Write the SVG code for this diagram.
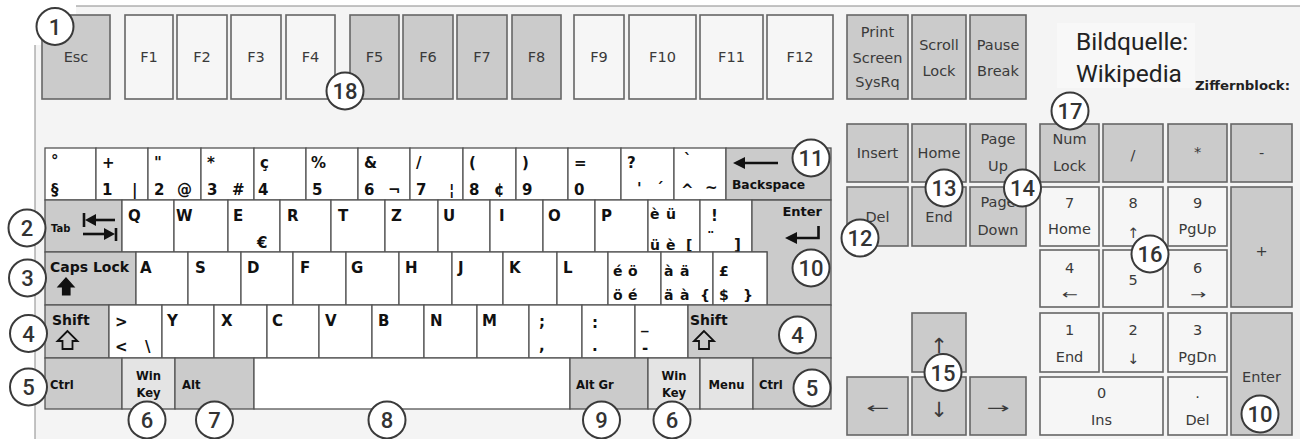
<svg xmlns="http://www.w3.org/2000/svg" width="1300" height="439" viewBox="0 0 1300 439">
<style>
.bg{fill:#f4f4f4;stroke:#8a8a8a;stroke-width:1}
.g{fill:#cbcbcb;stroke:#555;stroke-width:1.3}
.w{fill:#fff;stroke:#555;stroke-width:1.3}
.lg{fill:#e4e4e4;stroke:#555;stroke-width:1.3}
.fg{fill:#cbcbcb;stroke:#666;stroke-width:1.6}
.fl{fill:#f6f6f6;stroke:#666;stroke-width:1.6}
.t{font-family:"DejaVu Sans","Liberation Sans",sans-serif;font-weight:bold;font-size:15px;fill:#111}
.sm{font-family:"DejaVu Sans","Liberation Sans",sans-serif;font-weight:bold;font-size:11.6px;fill:#111}
.smc{font-family:"DejaVu Sans","Liberation Sans",sans-serif;font-weight:bold;font-size:11.6px;fill:#111;text-anchor:middle}
.r{font-family:"DejaVu Sans","Liberation Sans",sans-serif;font-size:14.5px;fill:#3a3a3a;text-anchor:middle}
.ah{font-family:"DejaVu Sans",sans-serif;font-size:15px;fill:#3a3a3a;text-anchor:middle}
.av{font-family:"DejaVu Sans",sans-serif;font-size:21px;fill:#3a3a3a;text-anchor:middle}
.cc{fill:#fff;stroke:#3a3a3a;stroke-width:2}
.cn{font-family:Roboto,"Liberation Sans",sans-serif;font-weight:500;font-size:22px;fill:#333;text-anchor:middle}
.ic{fill:#111}
.ln{stroke:#111;stroke-width:2.6;fill:none}
</style>
<rect x="0" y="0" width="1300" height="439" fill="#fff"/>
<rect class="bg" x="35" y="6" width="1280" height="450"/>
<rect x="34" y="0" width="42" height="45" fill="#fff"/>
<rect x="1057" y="23" width="138" height="65" fill="#f8f8f8"/>
<g id="source">
<text x="1076" y="50" style="font-family:Roboto,'Liberation Sans',sans-serif;font-size:24.5px;fill:#222">Bildquelle:</text>
<text x="1076" y="82" style="font-family:Roboto,'Liberation Sans',sans-serif;font-size:24.5px;fill:#222">Wikipedia</text>
<text x="1195" y="90" textLength="95" lengthAdjust="spacingAndGlyphs" style="font-family:'DejaVu Sans','Liberation Sans',sans-serif;font-weight:bold;font-size:11.5px;fill:#222">Ziffernblock:</text>
</g>

<!-- Function row -->
<g id="k-esc"><rect class="fg" x="42" y="15" width="68" height="84"/><text class="r" x="76" y="62">Esc</text></g>
<g id="k-f1"><rect class="fl" x="125" y="15" width="48" height="84"/><text class="r" x="149" y="62">F1</text></g>
<g id="k-f2"><rect class="fl" x="177" y="15" width="50" height="84"/><text class="r" x="202" y="62">F2</text></g>
<g id="k-f3"><rect class="fl" x="231" y="15" width="50" height="84"/><text class="r" x="256" y="62">F3</text></g>
<g id="k-f4"><rect class="fl" x="286" y="15" width="49" height="84"/><text class="r" x="310.5" y="62">F4</text></g>
<g id="k-f5"><rect class="fg" x="350" y="15" width="49" height="84"/><text class="r" x="374.5" y="62">F5</text></g>
<g id="k-f6"><rect class="fg" x="403" y="15" width="50" height="84"/><text class="r" x="428" y="62">F6</text></g>
<g id="k-f7"><rect class="fg" x="457" y="15" width="50" height="84"/><text class="r" x="482" y="62">F7</text></g>
<g id="k-f8"><rect class="fg" x="512" y="15" width="49" height="84"/><text class="r" x="536.5" y="62">F8</text></g>
<g id="k-f9"><rect class="fl" x="574" y="15" width="50" height="84"/><text class="r" x="599" y="62">F9</text></g>
<g id="k-f10"><rect class="fl" x="629" y="15" width="67" height="84"/><text class="r" x="662.5" y="62">F10</text></g>
<g id="k-f11"><rect class="fl" x="700" y="15" width="63" height="84"/><text class="r" x="731.5" y="62">F11</text></g>
<g id="k-f12"><rect class="fl" x="767" y="15" width="66" height="84"/><text class="r" x="800" y="62">F12</text></g>
<g id="k-prt"><rect class="fg" x="847" y="15" width="61" height="84"/><text class="r" x="877.5" y="37">Print</text><text class="r" x="877.5" y="63">Screen</text><text class="r" x="877.5" y="87">SysRq</text></g>
<g id="k-scroll"><rect class="fg" x="912" y="15" width="54" height="84"/><text class="r" x="939" y="50">Scroll</text><text class="r" x="939" y="76">Lock</text></g>
<g id="k-pause"><rect class="fg" x="970" y="15" width="56" height="84"/><text class="r" x="998" y="50">Pause</text><text class="r" x="998" y="76">Break</text></g>

<!-- Navigation block -->
<g id="k-ins"><rect class="fg" x="847" y="124" width="61" height="58"/><text class="r" x="877.5" y="158">Insert</text></g>
<g id="k-home"><rect class="fg" x="912" y="124" width="54" height="58"/><text class="r" x="939" y="158">Home</text></g>
<g id="k-pgup"><rect class="fg" x="970" y="124" width="56" height="58"/><text class="r" x="998" y="144">Page</text><text class="r" x="998" y="171">Up</text></g>
<g id="k-del"><rect class="fg" x="847" y="187" width="61" height="59"/><text class="r" x="877.5" y="222">Del</text></g>
<g id="k-end"><rect class="fg" x="912" y="187" width="54" height="59"/><text class="r" x="939" y="222">End</text></g>
<g id="k-pgdn"><rect class="fg" x="970" y="187" width="56" height="59"/><text class="r" x="998" y="207">Page</text><text class="r" x="998" y="235">Down</text></g>
<g id="k-up"><rect class="fg" x="912" y="313" width="54" height="59"/><text class="av" x="939" y="353">↑</text></g>
<g id="k-left"><rect class="fg" x="847" y="377" width="61" height="58"/><text class="ah" x="866" y="413" textLength="23" lengthAdjust="spacingAndGlyphs" style="text-anchor:start">←</text></g>
<g id="k-down"><rect class="fg" x="912" y="377" width="54" height="58"/><text class="av" x="939" y="417">↓</text></g>
<g id="k-right"><rect class="fg" x="970" y="377" width="56" height="58"/><text class="ah" x="986.5" y="413" textLength="23" lengthAdjust="spacingAndGlyphs" style="text-anchor:start">→</text></g>

<!-- Numeric keypad -->
<g id="n-numlock"><rect class="fg" x="1040" y="124" width="59" height="58"/><text class="r" x="1069.5" y="144">Num</text><text class="r" x="1069.5" y="171">Lock</text></g>
<g id="n-div"><rect class="fg" x="1103" y="124" width="60" height="58"/><text class="r" x="1133" y="160">/</text></g>
<g id="n-mul"><rect class="fg" x="1168" y="124" width="59" height="58"/><text class="r" x="1197.5" y="157">*</text></g>
<g id="n-sub"><rect class="fg" x="1231" y="124" width="61" height="58"/><text class="r" x="1261.5" y="158">-</text></g>
<g id="n-7"><rect class="fl" x="1040" y="187" width="59" height="59"/><text class="r" x="1069.5" y="208">7</text><text class="r" x="1069.5" y="234">Home</text></g>
<g id="n-8"><rect class="fl" x="1103" y="187" width="60" height="59"/><text class="r" x="1133" y="208">8</text><text class="r" x="1133" y="238">↑</text></g>
<g id="n-9"><rect class="fl" x="1168" y="187" width="59" height="59"/><text class="r" x="1197.5" y="208">9</text><text class="r" x="1197.5" y="234">PgUp</text></g>
<g id="n-add"><rect class="fg" x="1231" y="187" width="61" height="120"/><text class="r" x="1261.5" y="256">+</text></g>
<g id="n-4"><rect class="fl" x="1040" y="250" width="59" height="57"/><text class="r" x="1069.5" y="273">4</text><text class="ah" x="1062" y="299" textLength="16" lengthAdjust="spacingAndGlyphs" style="text-anchor:start;font-size:13px">←</text></g>
<g id="n-5"><rect class="fl" x="1103" y="250" width="60" height="57"/><text class="r" x="1133" y="285">5</text></g>
<g id="n-6"><rect class="fl" x="1168" y="250" width="59" height="57"/><text class="r" x="1197.5" y="273">6</text><text class="ah" x="1190" y="299" textLength="16" lengthAdjust="spacingAndGlyphs" style="text-anchor:start;font-size:13px">→</text></g>
<g id="n-1"><rect class="fl" x="1040" y="313" width="59" height="59"/><text class="r" x="1069.5" y="335">1</text><text class="r" x="1069.5" y="362">End</text></g>
<g id="n-2"><rect class="fl" x="1103" y="313" width="60" height="59"/><text class="r" x="1133" y="335">2</text><text class="r" x="1133" y="364">↓</text></g>
<g id="n-3"><rect class="fl" x="1168" y="313" width="59" height="59"/><text class="r" x="1197.5" y="335">3</text><text class="r" x="1197.5" y="362">PgDn</text></g>
<g id="n-enter"><rect class="fg" x="1231" y="313" width="61" height="122"/><text class="r" x="1261.5" y="382">Enter</text></g>
<g id="n-0"><rect class="fl" x="1040" y="377" width="123" height="58"/><text class="r" x="1101.5" y="398">0</text><text class="r" x="1101.5" y="425">Ins</text></g>
<g id="n-dot"><rect class="fl" x="1168" y="377" width="59" height="58"/><text class="r" x="1197.5" y="398">.</text><text class="r" x="1197.5" y="425">Del</text></g>

<!-- Main block: row 1 -->
<g id="m-sect"><rect class="w" x="45" y="148" width="51" height="52"/><text class="t" x="51" y="166">°</text><text class="t" x="51" y="195">§</text></g>
<g id="m-1"><rect class="w" x="96" y="148" width="52" height="52"/><text class="t" x="102" y="168">+</text><text class="t" x="102" y="195">1</text><text class="t" x="132" y="195">|</text></g>
<g id="m-2"><rect class="w" x="148" y="148" width="53" height="52"/><text class="t" x="154" y="168">"</text><text class="t" x="154" y="195">2</text><text class="t" x="177" y="195">@</text></g>
<g id="m-3"><rect class="w" x="201" y="148" width="53" height="52"/><text class="t" x="207" y="168">*</text><text class="t" x="207" y="195">3</text><text class="t" x="232" y="195">#</text></g>
<g id="m-4"><rect class="w" x="254" y="148" width="52" height="52"/><text class="t" x="260" y="168">ç</text><text class="t" x="258" y="195">4</text></g>
<g id="m-5"><rect class="w" x="306" y="148" width="52" height="52"/><text class="t" x="311" y="168">%</text><text class="t" x="312" y="195">5</text></g>
<g id="m-6"><rect class="w" x="358" y="148" width="52" height="52"/><text class="t" x="364" y="168">&amp;</text><text class="t" x="364" y="195">6</text><text class="t" x="388" y="195">¬</text></g>
<g id="m-7"><rect class="w" x="410" y="148" width="53" height="52"/><text class="t" x="416" y="168">/</text><text class="t" x="416" y="195">7</text><text class="t" x="449" y="195">¦</text></g>
<g id="m-8"><rect class="w" x="463" y="148" width="53" height="52"/><text class="t" x="469" y="168">(</text><text class="t" x="469" y="195">8</text><text class="t" x="494" y="195">¢</text></g>
<g id="m-9"><rect class="w" x="516" y="148" width="52" height="52"/><text class="t" x="522" y="168">)</text><text class="t" x="522" y="195">9</text></g>
<g id="m-0"><rect class="w" x="568" y="148" width="53" height="52"/><text class="t" x="574" y="168">=</text><text class="t" x="574" y="195">0</text></g>
<g id="m-q"><rect class="w" x="621" y="148" width="53" height="52"/><text class="t" x="627" y="168">?</text><text class="t" x="637" y="194">'</text><text class="t" x="656" y="194">´</text></g>
<g id="m-grave"><rect class="w" x="674" y="148" width="52" height="52"/><text class="t" x="684" y="165">`</text><text class="t" x="681" y="195">^</text><text class="t" x="705" y="193">~</text></g>
<g id="m-bksp"><rect class="g" x="726" y="148" width="105" height="52"/><path class="ic" d="M733,163 L745,157 L745,169 Z"/><line class="ln" x1="744" y1="163" x2="778" y2="163" stroke-width="3"/><text class="sm" x="732" y="189" style="font-size:12.3px">Backspace</text></g>

<!-- Row 2 -->
<g id="m-tab"><rect class="g" x="45" y="200" width="77" height="52"/><text class="sm" x="51" y="232" style="font-size:10px">Tab</text>
<line class="ln" x1="84" y1="213" x2="84" y2="227"/><path class="ic" d="M85,220 L96,214 L96,226 Z"/><line class="ln" x1="95" y1="220" x2="115" y2="220"/>
<line class="ln" x1="83" y1="234" x2="106" y2="234"/><path class="ic" d="M115,234 L104,228 L104,240 Z"/><line class="ln" x1="116" y1="228" x2="116" y2="241"/></g>
<g id="m-Q"><rect class="w" x="122" y="200" width="52" height="52"/><text class="t" x="128" y="221">Q</text></g>
<g id="m-W"><rect class="w" x="174" y="200" width="54" height="52"/><text class="t" x="176" y="221">W</text></g>
<g id="m-E"><rect class="w" x="228" y="200" width="52" height="52"/><text class="t" x="233" y="221">E</text><text class="t" x="257" y="248">€</text></g>
<g id="m-R"><rect class="w" x="280" y="200" width="51" height="52"/><text class="t" x="287" y="221">R</text></g>
<g id="m-T"><rect class="w" x="331" y="200" width="54" height="52"/><text class="t" x="338" y="221">T</text></g>
<g id="m-Z"><rect class="w" x="385" y="200" width="53" height="52"/><text class="t" x="391" y="221">Z</text></g>
<g id="m-U"><rect class="w" x="438" y="200" width="52" height="52"/><text class="t" x="443" y="221">U</text></g>
<g id="m-I"><rect class="w" x="490" y="200" width="53" height="52"/><text class="t" x="499" y="221">I</text></g>
<g id="m-O"><rect class="w" x="543" y="200" width="52" height="52"/><text class="t" x="548" y="221">O</text></g>
<g id="m-P"><rect class="w" x="595" y="200" width="53" height="52"/><text class="t" x="601" y="221">P</text></g>
<g id="m-ue"><rect class="w" x="648" y="200" width="52" height="52"/><text class="t" x="650" y="219" style="font-size:14px">è</text><text class="t" x="666" y="219" style="font-size:14px">ü</text><text class="t" x="650" y="250" style="font-size:14px">ü</text><text class="t" x="666" y="250" style="font-size:14px">è</text><text class="t" x="686" y="250" style="font-size:14px">[</text></g>
<g id="m-excl"><rect class="w" x="700" y="200" width="52" height="52"/><text class="t" x="711" y="221">!</text><text class="t" x="707" y="244">¨</text><text class="t" x="734" y="250">]</text></g>
<g id="m-enter"><path class="g" d="M752,200 H831 V305 H767 V252 H752 Z"/><text class="sm" x="822" y="216" style="font-size:13px;text-anchor:end">Enter</text><path class="ln" d="M818.5,226 V238 H796" stroke-width="3"/><path class="ic" d="M785,238 L797,232 L797,244 Z"/></g>

<!-- Row 3 -->
<g id="m-caps"><rect class="g" x="45" y="252" width="91" height="53"/><text class="sm" x="50" y="272" style="font-size:14px">Caps Lock</text><path class="ic" d="M66,278 L58,287 L62.5,287 L62.5,295 L70,295 L70,287 L74,287 Z" stroke="#111" stroke-width="1.2"/></g>
<g id="m-A"><rect class="w" x="136" y="252" width="52" height="53"/><text class="t" x="140" y="273">A</text></g>
<g id="m-S"><rect class="w" x="188" y="252" width="53" height="53"/><text class="t" x="195" y="273">S</text></g>
<g id="m-D"><rect class="w" x="241" y="252" width="52" height="53"/><text class="t" x="247" y="273">D</text></g>
<g id="m-F"><rect class="w" x="293" y="252" width="53" height="53"/><text class="t" x="300" y="273">F</text></g>
<g id="m-G"><rect class="w" x="346" y="252" width="53" height="53"/><text class="t" x="351" y="273">G</text></g>
<g id="m-H"><rect class="w" x="399" y="252" width="53" height="53"/><text class="t" x="405" y="273">H</text></g>
<g id="m-J"><rect class="w" x="452" y="252" width="51" height="53"/><text class="t" x="458" y="273">J</text></g>
<g id="m-K"><rect class="w" x="503" y="252" width="54" height="53"/><text class="t" x="509" y="273">K</text></g>
<g id="m-L"><rect class="w" x="557" y="252" width="51" height="53"/><text class="t" x="563" y="273">L</text></g>
<g id="m-oe"><rect class="w" x="608" y="252" width="53" height="53"/><text class="t" x="613" y="276" style="font-size:14px">é</text><text class="t" x="628" y="276" style="font-size:14px">ö</text><text class="t" x="613" y="300" style="font-size:14px">ö</text><text class="t" x="628" y="300" style="font-size:14px">é</text></g>
<g id="m-ae"><rect class="w" x="661" y="252" width="52" height="53"/><text class="t" x="664" y="276" style="font-size:14px">à</text><text class="t" x="680" y="276" style="font-size:14px">ä</text><text class="t" x="664" y="300" style="font-size:14px">ä</text><text class="t" x="680" y="300" style="font-size:14px">à</text><text class="t" x="700" y="300" style="font-size:14px">{</text></g>
<g id="m-pound"><rect class="w" x="713" y="252" width="54" height="53"/><text class="t" x="719" y="276" style="font-size:14px">£</text><text class="t" x="719" y="300" style="font-size:14px">$</text><text class="t" x="743" y="300" style="font-size:14px">}</text></g>

<!-- Row 4 -->
<g id="m-lshift"><rect class="g" x="45" y="305" width="64" height="53"/><text class="sm" x="52" y="325" style="font-size:14px">Shift</text><path d="M67.5,331 L57.5,341 L62.5,341 L62.5,349 L72.5,349 L72.5,341 L77.5,341 Z" fill="none" stroke="#111" stroke-width="1.8"/></g>
<g id="m-lt"><rect class="w" x="109" y="305" width="53" height="53"/><text class="t" x="115" y="327">&gt;</text><text class="t" x="115" y="352">&lt;</text><text class="t" x="145" y="352">\</text></g>
<g id="m-Y"><rect class="w" x="162" y="305" width="52" height="53"/><text class="t" x="167" y="326">Y</text></g>
<g id="m-X"><rect class="w" x="214" y="305" width="53" height="53"/><text class="t" x="221" y="326">X</text></g>
<g id="m-C"><rect class="w" x="267" y="305" width="52" height="53"/><text class="t" x="272" y="326">C</text></g>
<g id="m-V"><rect class="w" x="319" y="305" width="53" height="53"/><text class="t" x="325" y="326">V</text></g>
<g id="m-B"><rect class="w" x="372" y="305" width="52" height="53"/><text class="t" x="378" y="326">B</text></g>
<g id="m-N"><rect class="w" x="424" y="305" width="53" height="53"/><text class="t" x="430" y="326">N</text></g>
<g id="m-M"><rect class="w" x="477" y="305" width="52" height="53"/><text class="t" x="482" y="326">M</text></g>
<g id="m-semi"><rect class="w" x="529" y="305" width="53" height="53"/><text class="t" x="539" y="327">;</text><text class="t" x="539" y="351">,</text></g>
<g id="m-colon"><rect class="w" x="582" y="305" width="53" height="53"/><text class="t" x="592" y="328">:</text><text class="t" x="592" y="351">.</text></g>
<g id="m-under"><rect class="w" x="635" y="305" width="53" height="53"/><text class="t" x="641" y="329">_</text><text class="t" x="642" y="353">-</text></g>
<g id="m-rshift"><rect class="g" x="688" y="305" width="143" height="53"/><text class="sm" x="690" y="325" style="font-size:14px">Shift</text><path d="M704,331 L694,341 L699,341 L699,349 L709,349 L709,341 L714,341 Z" fill="none" stroke="#111" stroke-width="1.8"/></g>

<!-- Row 5 -->
<g id="m-lctrl"><rect class="g" x="45" y="358" width="77" height="51"/><text class="sm" x="50" y="389">Ctrl</text></g>
<g id="m-lwin"><rect class="lg" x="122" y="358" width="53" height="51"/><text class="smc" x="148.5" y="380">Win</text><text class="smc" x="148.5" y="397">Key</text></g>
<g id="m-alt"><rect class="g" x="175" y="358" width="79" height="51"/><text class="sm" x="182" y="389">Alt</text></g>
<g id="m-space"><rect class="w" x="254" y="358" width="316" height="51"/></g>
<g id="m-altgr"><rect class="g" x="570" y="358" width="78" height="51"/><text class="sm" x="576" y="389">Alt Gr</text></g>
<g id="m-rwin"><rect class="lg" x="648" y="358" width="52" height="51"/><text class="smc" x="674" y="380">Win</text><text class="smc" x="674" y="397">Key</text></g>
<g id="m-menu"><rect class="lg" x="700" y="358" width="53" height="51"/><text class="smc" x="726.5" y="389">Menu</text></g>
<g id="m-rctrl"><rect class="g" x="753" y="358" width="78" height="51"/><text class="sm" x="759" y="389">Ctrl</text></g>

<g id="connectors"></g>

<!-- Callout numbers -->
<g id="c1"><circle class="cc" cx="55" cy="26.5" r="18.5"/><text class="cn" x="55" y="34.5">1</text></g>
<g id="c18"><circle class="cc" cx="345" cy="91" r="18.5"/><text class="cn" x="345" y="99">18</text></g>
<g id="c11"><circle class="cc" cx="811" cy="158" r="18.5"/><text class="cn" x="811" y="166">11</text></g>
<g id="c10a"><circle class="cc" cx="811" cy="268" r="18.5"/><text class="cn" x="811" y="276">10</text></g>
<g id="c2"><circle class="cc" cx="27" cy="228" r="18.5"/><text class="cn" x="27" y="236">2</text></g>
<g id="c3"><circle class="cc" cx="27.5" cy="278" r="18.5"/><text class="cn" x="27.5" y="286">3</text></g>
<g id="c4a"><circle class="cc" cx="28.5" cy="333.5" r="18.5"/><text class="cn" x="28.5" y="341.5">4</text></g>
<g id="c4b"><circle class="cc" cx="797.5" cy="335" r="18.5"/><text class="cn" x="797.5" y="343">4</text></g>
<g id="c5a"><circle class="cc" cx="28.5" cy="387" r="18.5"/><text class="cn" x="28.5" y="395">5</text></g>
<g id="c5b"><circle class="cc" cx="812" cy="388" r="18.5"/><text class="cn" x="812" y="396">5</text></g>
<g id="c6a"><circle class="cc" cx="147" cy="420" r="18.5"/><text class="cn" x="147" y="428">6</text></g>
<g id="c7"><circle class="cc" cx="214.5" cy="420" r="18.5"/><text class="cn" x="214.5" y="428">7</text></g>
<g id="c8"><circle class="cc" cx="387" cy="420" r="18.5"/><text class="cn" x="387" y="428">8</text></g>
<g id="c9"><circle class="cc" cx="601.5" cy="420" r="18.5"/><text class="cn" x="601.5" y="428">9</text></g>
<g id="c6b"><circle class="cc" cx="672" cy="420" r="18.5"/><text class="cn" x="672" y="428">6</text></g>
<g id="c12"><circle class="cc" cx="860" cy="238" r="18.5"/><text class="cn" x="860" y="246">12</text></g>
<g id="c13"><circle class="cc" cx="944" cy="188" r="18.5"/><text class="cn" x="944" y="196">13</text></g>
<g id="c14"><circle class="cc" cx="1022.5" cy="188" r="18.5"/><text class="cn" x="1022.5" y="196">14</text></g>
<g id="c15"><circle class="cc" cx="943" cy="372.5" r="18.5"/><text class="cn" x="943" y="380.5">15</text></g>
<g id="c16"><circle class="cc" cx="1150" cy="254" r="18.5"/><text class="cn" x="1150" y="262">16</text></g>
<g id="c17"><circle class="cc" cx="1070" cy="111" r="18.5"/><text class="cn" x="1070" y="119">17</text></g>
<g id="c10b"><circle class="cc" cx="1260" cy="414" r="18.5"/><text class="cn" x="1260" y="422">10</text></g>
</svg>
